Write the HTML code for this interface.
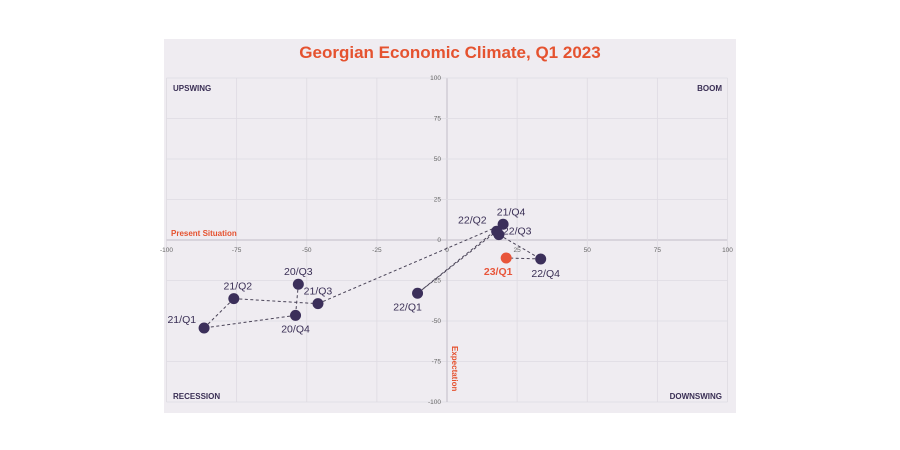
<!DOCTYPE html>
<html><head><meta charset="utf-8"><style>
body{margin:0;width:900px;height:450px;background:#fff;overflow:hidden;font-family:"Liberation Sans",sans-serif}
svg{position:absolute;left:0;top:0}
</style></head><body>
<svg width="900" height="450">
<rect x="164" y="39" width="572" height="374" fill="#efecf1"/>
<text x="450" y="58" text-anchor="middle" font-size="17" font-weight="bold" fill="#e5522f">Georgian Economic Climate, Q1 2023</text>
<g id="grid"></g>
<g id="lines"></g>
<g id="pts"></g>
<text x="173" y="91" font-size="8" font-weight="bold" fill="#3a2f55">UPSWING</text>
<text x="722" y="91" text-anchor="end" font-size="8" font-weight="bold" fill="#3a2f55">BOOM</text>
<text x="173" y="399" font-size="8" font-weight="bold" fill="#3a2f55">RECESSION</text>
<text x="722" y="399" text-anchor="end" font-size="8" font-weight="bold" fill="#3a2f55">DOWNSWING</text>
<text x="171" y="236" font-size="8" font-weight="bold" fill="#e5522f">Present Situation</text>
<text x="0" y="0" font-size="8" font-weight="bold" fill="#e5522f" transform="translate(452,346) rotate(90)">Expectation</text>
</svg>
<script>
const labels=["20/Q3","20/Q4","21/Q1","21/Q2","21/Q3","21/Q4","22/Q1","22/Q2","22/Q3","22/Q4","23/Q1"];
const presentValues=[-53,-54,-86.6,-76,-46,20,-10.5,17.7,18.5,33.4,21.1];
const expectationValues=[-27.3,-46.5,-54.3,-36.2,-39.3,9.7,-32.9,5.4,3.3,-11.7,-11.1];
const ticks=[-100,-75,-50,-25,0,25,50,75,100];
const NS="http://www.w3.org/2000/svg";
const xs=v=>447+v*2.805, ys=v=>240-v*1.62;
function mk(tag,attrs,parent){const e=document.createElementNS(NS,tag);for(const k in attrs)e.setAttribute(k,attrs[k]);parent.appendChild(e);return e;}
const grid=document.getElementById('grid');
ticks.forEach(t=>{
 const a=mk('line',{x1:xs(t),x2:xs(t),y1:ys(100),y2:ys(-100),stroke:t===0?'#c9c5cf':'#dedbe2','stroke-width':t===0?1.2:0.8},grid);
 
 
 const b=mk('line',{x1:xs(-100),x2:xs(100),y1:ys(t),y2:ys(t),stroke:t===0?'#c9c5cf':'#dedbe2','stroke-width':t===0?1.2:0.8},grid);
 
 
 const tx=mk('text',{x:xs(t),y:ys(0)+12,'text-anchor':'middle','font-size':6.5,fill:'#666'},grid);tx.textContent=t;
 
 
 const ty=mk('text',{x:xs(0)-6,y:ys(t)+2,'text-anchor':'end','font-size':6.5,fill:'#666'},grid);ty.textContent=t;
 
 
});
const lines=document.getElementById('lines');
for(let i=0;i<labels.length-1;i++){
 const l=mk('line',{x1:xs(presentValues[i]),y1:ys(expectationValues[i]),x2:xs(presentValues[i+1]),y2:ys(expectationValues[i+1]),stroke:'#4a4458','stroke-width':1,'stroke-dasharray':'3,2.5'},lines);
 
 
}
const offs={"20/Q3":[0,-9,'middle'],"20/Q4":[0,17,'middle'],"21/Q1":[-8,-5,'end'],"21/Q2":[4,-9,'middle'],"21/Q3":[0,-9,'middle'],"21/Q4":[8,-9,'middle'],"22/Q1":[-10,17,'middle'],"22/Q2":[-10,-8,'end'],"22/Q3":[4,0,'start'],"22/Q4":[5,18,'middle'],"23/Q1":[-8,17,'middle']};
const pts=document.getElementById('pts');
labels.forEach((lb,i)=>{
 const last=i===labels.length-1, col=last?'#e8553a':'#3b2f5a';
 const c=mk('circle',{cx:xs(presentValues[i]),cy:ys(expectationValues[i]),r:5.5,fill:col},pts);
 
 
 const o=offs[lb];
 const t=mk('text',{x:xs(presentValues[i])+o[0],y:ys(expectationValues[i])+o[1],'text-anchor':o[2],'font-size':10.5,fill:last?'#e8553a':'#3a2f55','font-weight':last?'bold':'normal'},pts);
 t.textContent=lb;
 
 
});
</script>
</body></html>
